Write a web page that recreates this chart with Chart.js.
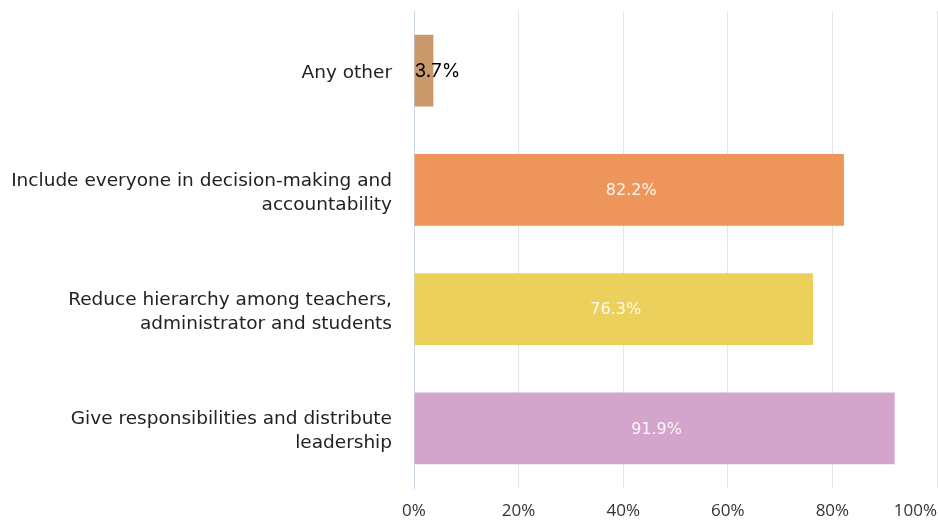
<!DOCTYPE html>
<html>
<head>
<meta charset="utf-8">
<script src="https://cdn.jsdelivr.net/npm/chart.js@4/dist/chart.umd.min.js"></script>
<style>
  html, body { margin: 0; padding: 0; background: #fff; }
  #wrap { width: 938px; height: 520px; }
</style>
</head>
<body>
<div id="wrap"><canvas id="shareChart"></canvas></div>
<script>
const categories = [
    'Any other',
    ['Include everyone in decision-making and', 'accountability'],
    ['Reduce hierarchy among teachers,', 'administrator and students'],
    ['Give responsibilities and distribute', 'leadership']
];
const shares = [3.7, 82.2, 76.3, 91.9];
const barColors = ['#c9996b', '#ee955b', '#ecd05c', '#d3a5cc'];
const xTicks = [0, 20, 40, 60, 80, 100];

// value labels: white inside long bars, black from the axis for short ones
const valueLabels = {
    id: 'valueLabels',
    afterDatasetsDraw(chart) {
        const ctx = chart.ctx;
        const meta = chart.getDatasetMeta(0);
        ctx.save();
        ctx.textBaseline = 'middle';
        meta.data.forEach((bar, i) => {
            const v = shares[i];
            const text = v.toFixed(1) + '%';
            if (v < 10) {
                ctx.font = '19px Inter';
                ctx.fillStyle = '#000';
                ctx.textAlign = 'left';
                ctx.fillText(text, bar.base, bar.y + 1);
            } else {
                ctx.font = '16px "DejaVu Sans"';
                ctx.fillStyle = 'rgba(255,255,255,0.92)';
                ctx.textAlign = 'center';
                ctx.fillText(text, (bar.x + bar.base) / 2 + 2, bar.y + 1);
            }
        });
        ctx.restore();
    }
};

new Chart(document.getElementById('shareChart'), {
    type: 'bar',
    data: {
        labels: categories,
        datasets: [{
            data: shares,
            backgroundColor: barColors,
            barPercentage: 0.6,
            categoryPercentage: 1
        }]
    },
    options: {
        indexAxis: 'y',
        responsive: true,
        maintainAspectRatio: false,
        animation: false,
        layout: { padding: { top: 11, right: 1, bottom: 0, left: 0 } },
        plugins: { legend: { display: false }, tooltip: { enabled: false } },
        scales: {
            x: {
                min: 0,
                max: 100,
                afterBuildTicks(scale) {
                    // extra empty first tick so that 0% stays centred with 'inner' alignment
                    scale.ticks = [{ value: 0 }].concat(xTicks.map(v => ({ value: v })));
                },
                afterFit(scale) {
                    scale.paddingLeft = 0;
                    scale.paddingRight = 0;
                    scale.height = 32;
                },
                grid: {
                    drawTicks: false,
                    color: c => (c.tick && c.tick.value === 0 ? '#ccd6eb' : '#e6e6e6')
                },
                border: { display: false },
                ticks: {
                    autoSkip: false,
                    align: 'inner',
                    padding: 13,
                    color: '#333',
                    font: { family: '"Open Sans"', size: 17 },
                    callback: (v, i) => (i === 0 ? '' : v + '%')
                }
            },
            y: {
                afterFit(scale) {
                    scale.width = 414;
                    scale.paddingTop = 0;
                    scale.paddingBottom = 0;
                },
                grid: { display: false, drawTicks: false },
                border: { display: true, color: '#ccd6eb' },
                ticks: {
                    padding: 22,
                    labelOffset: 3,
                    color: '#222',
                    font: { family: '"DejaVu Sans"', size: 18.5, lineHeight: 1.3 }
                }
            }
        }
    },
    plugins: [valueLabels]
});
</script>
</body>
</html>
